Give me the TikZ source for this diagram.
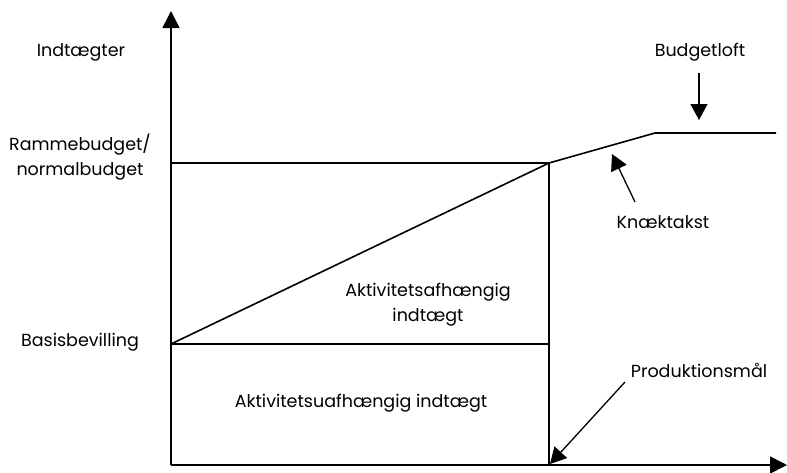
\documentclass[tikz,border=0pt]{standalone}
\usepackage{fontspec}
\setmainfont{Poppins}
\usetikzlibrary{arrows.meta}
\begin{document}
\begin{tikzpicture}[x=1pt,y=-1pt,
  ln/.style={line width=1.6pt},
  axis/.style={ln,-{Triangle[length=17pt,width=17pt]}},
  pointer/.style={line width=1.3pt,-{Triangle[length=16pt,width=17pt]}},
  lbl/.style={font=\fontsize{17.5}{25}\selectfont,inner sep=0pt,align=center}]
\useasboundingbox (0,0) rectangle (787,472);
\coordinate (O) at (171,465);
\coordinate (Ytop) at (171,11);
\coordinate (Xend) at (787,465);
\coordinate (R) at (171,163);
\coordinate (P) at (549,163);
\coordinate (B) at (171,344);
\coordinate (Q) at (549,344);
\coordinate (Px) at (549,465);
\coordinate (K) at (655,133);
\coordinate (E) at (776,133);
\coordinate (bl1) at (699,73);
\coordinate (bl2) at (699,120);
\coordinate (kn1) at (635,202);
\coordinate (kn2) at (612,154);
\coordinate (pm1) at (625,382);
\coordinate (pm2) at (550,464);
\draw[axis] (O) -- (Ytop);
\draw[axis] (O) -- (Xend);
\draw[ln] (R) -- (P) -- (Px);
\draw[ln] (B) -- (Q);
\draw[ln] (B) -- (P) -- (K) -- (E);
\draw[pointer] (bl1) -- (bl2);
\draw[pointer] (kn1) -- (kn2);
\draw[pointer] (pm1) -- (pm2);
\node[lbl] (ind) at (81,52) {Indtægter};
\node[lbl] (ram) at (80,157) {Rammebudget/\\normalbudget};
\node[lbl] (bas) at (80,342) {Basisbevilling};
\node[lbl] (bud) at (700,52) {Budgetloft};
\node[lbl] (kna) at (663,222) {Knæktakst};
\node[lbl] (pro) at (699,370) {Produktionsmål};
\node[lbl] (afh) at (428,305) {Aktivitetsafhængig\\indtægt};
\node[lbl] (uaf) at (361,403) {Aktivitetsuafhængig indtægt};
\end{tikzpicture}
\end{document}
